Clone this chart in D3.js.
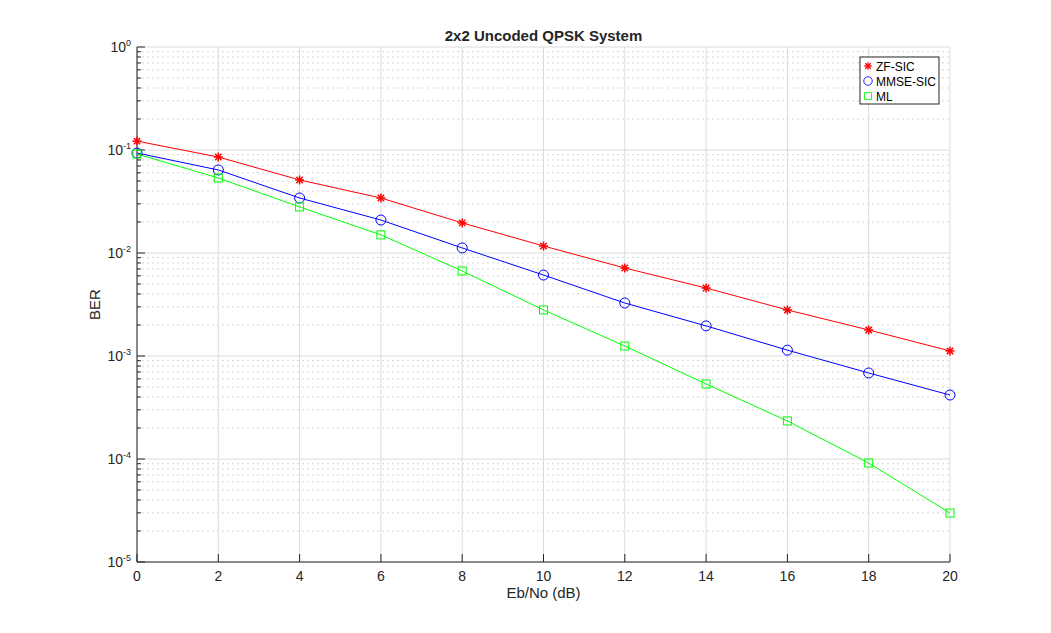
<!DOCTYPE html>
<html>
<head>
<meta charset="utf-8">
<script src="https://cdn.jsdelivr.net/npm/d3@7"></script>
<style>
  body { margin: 0; background: #fff; }
  text { font-family: "Liberation Sans", Arial, sans-serif; }
</style>
</head>
<body>
<div class="chart"></div>
<script>
var snr = [0, 2, 4, 6, 8, 10, 12, 14, 16, 18, 20];
var berZF = [0.122, 0.0855, 0.0512, 0.0342, 0.0196, 0.0117, 0.00715, 0.00457, 0.00280, 0.00179, 0.00112];
var berMMSE = [0.0935, 0.0640, 0.0342, 0.0209, 0.0112, 0.00611, 0.00327, 0.00196, 0.00114, 0.000684, 0.000418];
var berML = [0.0915, 0.0535, 0.0280, 0.0150, 0.00669, 0.00280, 0.00125, 0.000535, 0.000234, 0.0000914, 0.0000299];
var seriesNames = ["ZF-SIC", "MMSE-SIC", "ML"];
var xTicks = [0, 2, 4, 6, 8, 10, 12, 14, 16, 18, 20];
var yExponents = [0, -1, -2, -3, -4, -5];

var width = 1051, height = 633;
var pLeft = 137, pRight = 950, pTop = 47, pBottom = 562;

var svg = d3.select(".chart").append("svg")
    .attr("width", width)
    .attr("height", height);

var x = d3.scaleLinear().domain([0, 20]).range([pLeft, pRight]);
var y = d3.scaleLog().domain([1e-5, 1]).range([pBottom, pTop]);

// minor values for log axis
var minor = [];
for (var e = -5; e < 0; e++) {
    for (var m = 2; m <= 9; m++) minor.push(m * Math.pow(10, e));
}

var grid = svg.append("g");
grid.selectAll(".minor")
    .data(minor)
    .enter().append("line")
    .attr("x1", pLeft).attr("x2", pRight)
    .attr("y1", d => y(d)).attr("y2", d => y(d))
    .attr("stroke", "#d6d6d6")
    .attr("stroke-dasharray", "2,3")
    .attr("stroke-width", 1);
grid.selectAll(".hmajor")
    .data(yExponents)
    .enter().append("line")
    .attr("x1", pLeft).attr("x2", pRight)
    .attr("y1", d => y(Math.pow(10, d))).attr("y2", d => y(Math.pow(10, d)))
    .attr("stroke", "#dcdcdc")
    .attr("stroke-width", 1);
grid.selectAll(".vmajor")
    .data(xTicks)
    .enter().append("line")
    .attr("x1", d => x(d)).attr("x2", d => x(d))
    .attr("y1", pTop).attr("y2", pBottom)
    .attr("stroke", "#dcdcdc")
    .attr("stroke-width", 1);

// axes
var axes = svg.append("g").attr("stroke", "#262626").attr("stroke-width", 1);
axes.append("line").attr("x1", pLeft).attr("x2", pLeft).attr("y1", pTop).attr("y2", pBottom);
axes.append("line").attr("x1", pLeft).attr("x2", pRight).attr("y1", pBottom).attr("y2", pBottom);
axes.selectAll(".yt")
    .data(yExponents)
    .enter().append("line")
    .attr("x1", pLeft).attr("x2", pLeft + 8)
    .attr("y1", d => y(Math.pow(10, d))).attr("y2", d => y(Math.pow(10, d)));
axes.selectAll(".ym")
    .data(minor)
    .enter().append("line")
    .attr("x1", pLeft).attr("x2", pLeft + 4)
    .attr("y1", d => y(d)).attr("y2", d => y(d));
axes.selectAll(".xt")
    .data(xTicks)
    .enter().append("line")
    .attr("x1", d => x(d)).attr("x2", d => x(d))
    .attr("y1", pBottom).attr("y2", pBottom - 8);

svg.selectAll(".xl")
    .data(xTicks)
    .enter().append("text")
    .attr("x", d => x(d))
    .attr("y", pBottom + 19)
    .attr("text-anchor", "middle")
    .attr("font-size", 14)
    .attr("fill", "#262626")
    .text(d => d);

var yl = svg.selectAll(".yl")
    .data(yExponents)
    .enter().append("text")
    .attr("x", pLeft - 6)
    .attr("y", d => y(Math.pow(10, d)) + 5)
    .attr("text-anchor", "end")
    .attr("font-size", 14)
    .attr("fill", "#262626");
yl.append("tspan").text("10");
yl.append("tspan")
    .attr("dy", -6)
    .attr("font-size", 9)
    .text(d => d);

svg.append("text")
    .attr("x", (pLeft + pRight) / 2)
    .attr("y", 598)
    .attr("text-anchor", "middle")
    .attr("font-size", 15)
    .attr("fill", "#262626")
    .text("Eb/No (dB)");

svg.append("text")
    .attr("transform", "translate(100," + ((pTop + pBottom) / 2) + ") rotate(-90)")
    .attr("text-anchor", "middle")
    .attr("font-size", 15)
    .attr("fill", "#262626")
    .text("BER");

svg.append("text")
    .attr("x", (pLeft + pRight) / 2)
    .attr("y", 41)
    .attr("text-anchor", "middle")
    .attr("font-size", 15)
    .attr("font-weight", "bold")
    .attr("fill", "#262626")
    .text("2x2 Uncoded QPSK System");

var series = [
    { name: seriesNames[0], values: berZF, color: "#ff0000", marker: "star" },
    { name: seriesNames[1], values: berMMSE, color: "#0000ff", marker: "circle" },
    { name: seriesNames[2], values: berML, color: "#00ff00", marker: "square" }
];

var line = d3.line()
    .x((d, i) => x(snr[i]))
    .y(d => y(d));

function drawMarker(g, type, color) {
    if (type === "circle") {
        g.append("circle").attr("r", 5).attr("fill", "none").attr("stroke", color).attr("stroke-width", 1);
    } else if (type === "square") {
        g.append("rect").attr("x", -4).attr("y", -4).attr("width", 8).attr("height", 8)
            .attr("fill", "none").attr("stroke", color).attr("stroke-width", 1);
    } else {
        var r = 4.5;
        [0, 45, 90, 135].forEach(function(a) {
            var rad = a * Math.PI / 180;
            g.append("line")
                .attr("x1", -r * Math.cos(rad)).attr("y1", -r * Math.sin(rad))
                .attr("x2", r * Math.cos(rad)).attr("y2", r * Math.sin(rad))
                .attr("stroke", color).attr("stroke-width", 1.5);
        });
    }
}

series.forEach(function(s) {
    svg.append("path")
        .attr("d", line(s.values))
        .attr("fill", "none")
        .attr("stroke", s.color)
        .attr("stroke-width", 1);
    svg.append("g").selectAll("g")
        .data(s.values)
        .enter().append("g")
        .attr("transform", (d, i) => "translate(" + x(snr[i]) + "," + y(d) + ")")
        .each(function() { drawMarker(d3.select(this), s.marker, s.color); });
});

// legend
var legend = svg.append("g").attr("transform", "translate(860,57)");
legend.append("rect")
    .attr("width", 79).attr("height", 47)
    .attr("fill", "#fff").attr("stroke", "#262626").attr("stroke-width", 1);
series.forEach(function(s, i) {
    var item = legend.append("g").attr("transform", "translate(8," + (9 + i * 15) + ")");
    var mk = item.append("g").attr("transform", "scale(0.85)");
    drawMarker(mk, s.marker, s.color);
    item.append("text")
        .attr("x", 8)
        .attr("y", 4.5)
        .attr("font-size", 12)
        .attr("fill", "#000")
        .text(s.name);
});
</script>
</body>
</html>
